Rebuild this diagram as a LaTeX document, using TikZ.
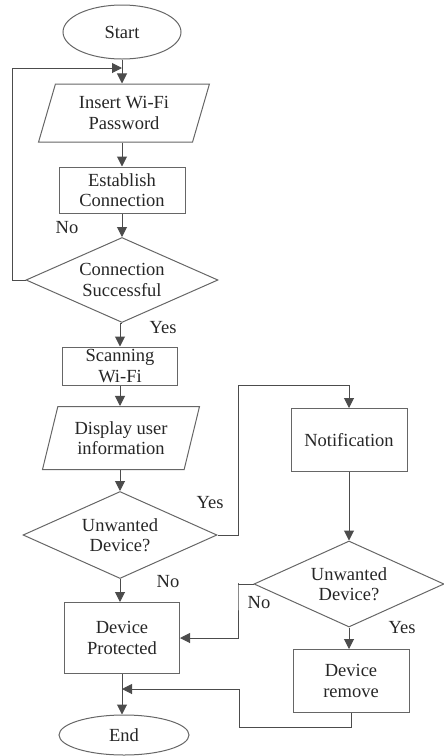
\documentclass[tikz,border=0pt]{standalone}
\usepackage{fontspec}
\setmainfont{Liberation Serif}
\usetikzlibrary{shapes.geometric,arrows.meta}
\begin{document}
\begin{tikzpicture}[x=1pt,y=-1pt,
  line width=1pt,
  every node/.style={font=\fontsize{18.5}{20.5}\selectfont, text=black!85},
  terminal/.style={ellipse, draw=black!60, inner sep=0pt},
  inout/.style={trapezium, trapezium left angle=72, trapezium right angle=108,
    trapezium stretches=true, draw=black!60, align=center, inner sep=1pt},
  process/.style={rectangle, draw=black!60, align=center, inner sep=0pt},
  decision/.style={diamond, aspect=2.2, draw=black!60, align=center, inner sep=0pt},
  arr/.style={draw=black!70, -{Triangle[length=10pt,width=10pt]}},
  conn/.style={draw=black!70}]
\useasboundingbox (0,0) rectangle (444,756);

\node[terminal, minimum width=118, minimum height=54] (start) at (122,32) {Start};
\node[inout, minimum width=171, minimum height=58] (insert) at (124,113) {Insert Wi-Fi\\Password};
\node[process, minimum width=126, minimum height=46] (establish) at (122,190) {Establish\\Connection};
\node[decision, minimum width=192, minimum height=85] (success) at (122,280) {Connection\\Successful};
\node[process, minimum width=115, minimum height=38] (scan) at (120,366) {Scanning\\Wi-Fi};
\node[inout, minimum width=157, minimum height=63] (display) at (121,438) {Display user\\information};
\node[decision, minimum width=194, minimum height=87] (unwanted) at (120,535) {Unwanted\\Device?};
\node[process, minimum width=115, minimum height=71] (protected) at (122,638) {Device\\Protected};
\node[terminal, minimum width=130, minimum height=40] (finish) at (124,735) {End};
\node[process, minimum width=116, minimum height=63] (notify) at (349,440) {Notification};
\node[decision, minimum width=190, minimum height=86] (recheck) at (349,584) {Unwanted\\Device?};
\node[process, minimum width=116, minimum height=63] (remove) at (351,681) {Device\\remove};

\coordinate (loopin) at (122,68);
\coordinate (yesbend) at (238,385);
\coordinate (nobend) at (238,583);
\coordinate (backbend) at (239,689);
\coordinate (merge) at (122,689);

\draw[arr] (start) -- (start |- insert.north);
\draw[arr] (success.west) -- ++(-13,0) |- (loopin);
\draw[arr] (insert.south -| establish) -- (establish.north);
\draw[arr] (establish) -- (success.north);
\draw[arr] (success.south) -- (success.south -| scan) -- (scan.north);
\draw[arr] (scan.south) -- (scan.south |- display.north);
\draw[arr] (display.south -| unwanted) -- (unwanted.north);
\draw[arr] (unwanted.south) -- (unwanted.south |- protected.north);
\draw[arr] (unwanted.east) -| (yesbend) -| (notify.north);
\draw[arr] (notify.south) -- (notify.south |- recheck.north);
\draw[arr] (recheck.west) -| (nobend) |- (protected.east);
\draw[arr] (recheck.south) -- (recheck.south |- remove.north);
\draw[arr] (protected.south) -- (protected.south |- finish.north);
\draw[arr] (remove.south) -- ++(0,14) -| (backbend) -- (merge);

\node at (67,228) {No};
\node at (163,328) {Yes};
\node at (210,503) {Yes};
\node at (168,582) {No};
\node at (259,603) {No};
\node at (402,628) {Yes};
\end{tikzpicture}
\end{document}
